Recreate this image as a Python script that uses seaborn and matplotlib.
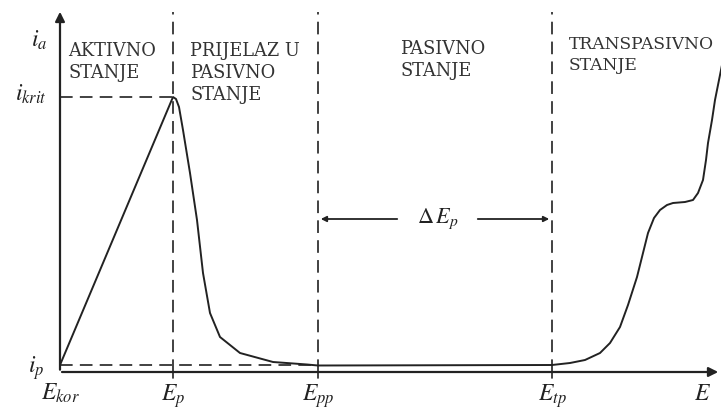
import matplotlib
matplotlib.use("Agg")
import matplotlib.pyplot as plt
import seaborn as sns
import pandas as pd

# ----------------------------
# Data (E and i in arbitrary units)
# ----------------------------
E_kor, E_p, E_pp, E_tp = 0.0, 11.3, 25.8, 49.2
i_p, i_krit = 0.7, 27.5

E_vals = [0.0, 11.3, 11.6, 11.9, 12.3, 13.0, 13.7, 14.3, 15.0, 16.0, 18.0, 21.3, 24.7,
          25.8, 49.2, 51.0, 52.5, 54.0, 55.0, 56.0, 56.8, 57.7, 58.3, 58.8, 59.4,
          60.0, 60.7, 61.3, 62.5, 63.3, 63.8, 64.3, 64.6, 64.8, 65.2, 65.5, 65.9, 66.2]
i_vals = [0.7, 27.5, 27.3, 26.5, 24.2, 19.9, 15.2, 9.9, 5.9, 3.5, 1.9, 1.0, 0.75,
          0.65, 0.7, 0.9, 1.2, 1.9, 2.9, 4.5, 6.7, 9.5, 11.9, 13.9, 15.4,
          16.2, 16.7, 16.9, 17.0, 17.2, 17.9, 19.2, 21.2, 22.9, 25.2, 27.2, 29.2, 30.7]

regions = ["AKTIVNO\nSTANJE", "PRIJELAZ U\nPASIVNO\nSTANJE", "PASIVNO\nSTANJE", "TRANSPASIVNO\nSTANJE"]
region_x = [0.8, 13.0, 34.0, 50.9]
region_y = [33.0, 33.0, 33.2, 33.6]
region_size = [12.8, 12.8, 12.8, 12.3]

x_labels = [r"$E_{kor}$", r"$E_p$", r"$E_{pp}$", r"$E_{tp}$", r"$E$"]
x_label_pos = [E_kor, E_p, E_pp, E_tp, 64.3]

df = pd.DataFrame({"E": E_vals, "i": i_vals})

sns.set_style("white")
plt.rcParams["mathtext.fontset"] = "stix"
plt.rcParams["font.family"] = ["DejaVu Serif"]

fig = plt.figure(figsize=(7.21, 4.09), dpi=100)
ax = fig.add_axes([0, 0, 1, 1])
ax.set_xlim(-6.0, 66.1)
ax.set_ylim(-3.7, 37.2)
ax.axis("off")

col = "#333333"
dash = dict(color=col, lw=1.3, linestyle=(0, (7, 4)))

# vertical region borders
for xv in [E_p, E_pp, E_tp]:
    ax.plot([xv, xv], [0, 36.0], **dash)
# horizontal helper lines
ax.plot([0, E_p], [i_krit, i_krit], **dash)
ax.plot([0, E_pp], [i_p, i_p], **dash)

# polarisation curve
sns.lineplot(data=df, x="E", y="i", sort=False, color="#222222", lw=1.4, ax=ax,
             estimator=None, clip_on=False)

# axes with arrows
ax.annotate("", xy=(0, 36.3), xytext=(0, -0.05),
            arrowprops=dict(arrowstyle="-|>", color="#222222", lw=1.6, mutation_scale=14))
ax.annotate("", xy=(66.1, 0), xytext=(-0.08, 0),
            arrowprops=dict(arrowstyle="-|>", color="#222222", lw=1.6, mutation_scale=14))
for xv in [E_p, E_pp, E_tp]:
    ax.plot([xv, xv], [0, -0.6], color="#222222", lw=1.2)

# Delta E_p dimension arrows
y_d = 15.3
ax.annotate("", xy=(E_pp, y_d), xytext=(34.0, y_d),
            arrowprops=dict(arrowstyle="-|>", color="#222222", lw=1.3, mutation_scale=8))
ax.annotate("", xy=(E_tp, y_d), xytext=(41.5, y_d),
            arrowprops=dict(arrowstyle="-|>", color="#222222", lw=1.3, mutation_scale=8))
ax.text(37.8, y_d, r"$\Delta\,E_p$", fontsize=16, ha="center", va="center", color="#222222")

# region titles
for txt, xx, yy, fs in zip(regions, region_x, region_y, region_size):
    ax.text(xx, yy, txt, fontsize=fs, ha="left", va="top", color="#333333",
            linespacing=1.3)

# y labels
ax.text(-1.3, 33.2, r"$i_a$", fontsize=17, ha="right", va="center", color="#222222")
ax.text(-1.3, 27.8, r"$i_{krit}$", fontsize=17, ha="right", va="center", color="#222222")
ax.text(-1.6, 0.4, r"$i_p$", fontsize=17, ha="right", va="center", color="#222222")

# x labels
for lab, xx in zip(x_labels, x_label_pos):
    ax.text(xx, -1.0, lab, fontsize=17, ha="center", va="top", color="#222222")

fig.savefig("out.png", dpi=100)
